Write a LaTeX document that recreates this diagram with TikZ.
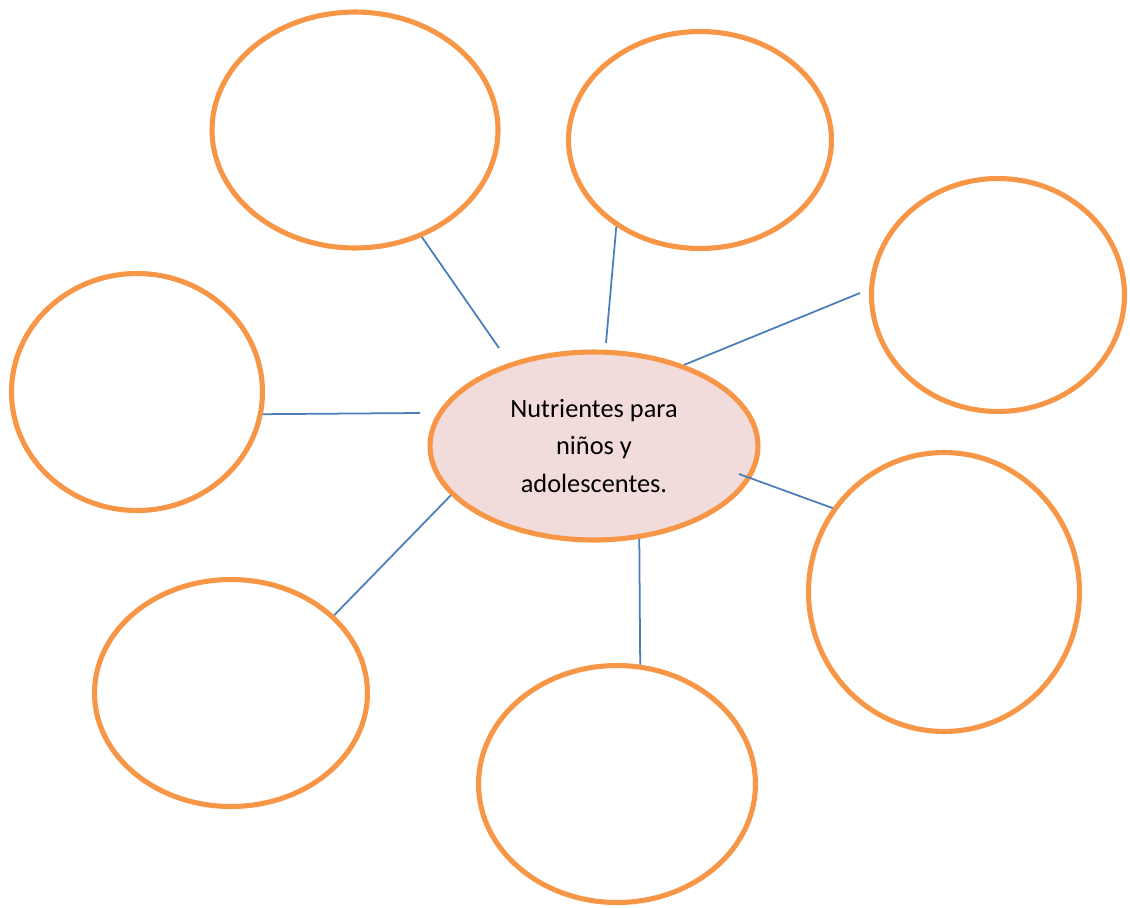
\documentclass[tikz,border=0pt]{standalone}
\usepackage{fontspec}
\setmainfont{Carlito}
\usetikzlibrary{shapes.geometric}

\definecolor{bubbleorange}{HTML}{F79646}
\definecolor{centerpink}{HTML}{F2DCDB}
\definecolor{spokeblue}{HTML}{4A7EBB}

\begin{document}
\begin{tikzpicture}[x=0.02cm, y=-0.02cm,
        bubble/.style={ellipse, draw=bubbleorange, line width=2.9pt, inner sep=0pt},
        spoke/.style={draw=spokeblue, line width=1pt}]

        % --- Canvas ---
        \useasboundingbox (0,0) rectangle (1130,907);

        % --- Central idea ---
        \node[bubble, fill=centerpink, minimum width=6.56cm, minimum height=3.76cm,
              align=center, font=\fontsize{15}{21.5}\selectfont] (c) at (594,446)
              {Nutrientes para\\niños y\\adolescentes.};

        % --- Empty bubbles ---
        \node[bubble, minimum width=5.72cm, minimum height=4.72cm] (tl) at (355,130) {};
        \node[bubble, minimum width=5.26cm, minimum height=4.34cm] (tm) at (700,140) {};
        \node[bubble, minimum width=5.06cm, minimum height=4.66cm] (tr) at (998,295) {};
        \node[bubble, minimum width=5.02cm, minimum height=4.74cm] (lft) at (137,392) {};
        \node[bubble, minimum width=5.42cm, minimum height=5.58cm] (rb) at (944,592) {};
        \node[bubble, minimum width=5.46cm, minimum height=4.54cm] (bl) at (231,693) {};
        \node[bubble, minimum width=5.54cm, minimum height=4.74cm] (bm) at (617,784) {};

        % Free ends of the spokes
        \coordinate (tlend) at (499,348);
        \coordinate (tmend) at (606,343);
        \coordinate (trend) at (860,293);
        \coordinate (lftend) at (420,413);
        \coordinate (rbend) at (739,474);

        % --- Spokes ---
        \draw[spoke] (tl.-58) -- (tlend);
        \draw[spoke] (tm.-134) -- (tmend);
        \draw[spoke] (c.42) -- (trend);
        \draw[spoke] (lft.-10.2) -- (lftend);
        \draw[spoke] (rbend) -- (rb.143);
        \draw[spoke] (c.199) -- (bl.37);
        \draw[spoke] (c.-64.5) -- (bm.79);
    \end{tikzpicture}
\end{document}
